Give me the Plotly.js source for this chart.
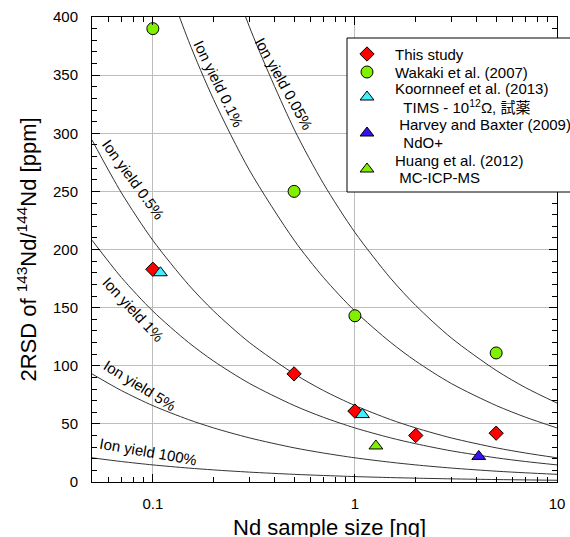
<!DOCTYPE html>
<html><head><meta charset="utf-8">
<script src="https://cdn.plot.ly/plotly-3.0.1.min.js"></script>
<style>html,body{margin:0;padding:0;background:#fff;}#chart{width:570px;height:537px;}</style>
</head><body><div id="chart"></div>
<script>
// ---- data ----
const curveX = [0.05, 0.07, 0.1, 0.15, 0.2, 0.3, 0.5, 0.7, 1, 1.5, 2, 3, 5, 7, 10];
const yield100 = [20.8, 17.6, 14.7, 12.0, 10.4, 8.5, 6.6, 5.6, 4.65, 3.8, 3.3, 2.7, 2.1, 1.8, 1.5];
const yield5   = [93.0, 78.6, 65.7, 53.7, 46.5, 38.0, 29.4, 24.9, 20.8, 17.0, 14.7, 12.0, 9.3, 7.9, 6.6];
const yield1   = [208.0, 175.8, 147.0, 120.1, 104.0, 84.9, 65.8, 55.6, 46.5, 38.0, 32.9, 26.8, 20.8, 17.6, 14.7];
const yield05  = [294.2, 248.6, 207.9, 169.8, 147.1, 120.1, 93.1, 78.6, 65.8, 53.7, 46.5, 37.9, 29.4, 24.9, 20.8];
const yield01  = [657.8, 555.9, 464.9, 379.8, 328.9, 268.5, 208.1, 175.8, 147.0, 120.2, 104.0, 84.7, 65.8, 55.7, 46.5];
const yield005 = [960.0, 811.4, 678.8, 554.2, 480.0, 391.9, 303.6, 256.5, 214.7, 175.3, 151.8, 123.9, 96.0, 81.1, 67.9];
const curveLabels = ["Ion yield 100%", "Ion yield 5%", "Ion yield 1%", "Ion yield 0.5%", "Ion yield 0.1%", "Ion yield 0.05%"];

const thisStudyX = [0.1, 0.5, 1, 2, 5];
const thisStudyY = [183, 93, 61, 40, 42];
const wakakiX = [0.1, 0.5, 1, 5];
const wakakiY = [390, 250, 143, 111];
const koornX = [0.109, 1.09];
const koornY = [180, 58];
const harveyX = [4.1];
const harveyY = [22];
const huangX = [1.27];
const huangY = [31];

// legend text lines (series names, second lines are the method notes)
const legendLines = [
  "This study",
  "Wakaki et al. (2007)",
  "Koornneef et al. (2013)",
  "\u00a0\u00a0TIMS - 10<sup>12</sup>Ω, 試薬",
  "\u00a0Harvey and Baxter (2009)",
  "\u00a0\u00a0NdO+",
  "Huang et al. (2012)",
  "\u00a0MC-ICP-MS"
];
const xTickVals = [0.1, 1, 10];
const xTickText = ["0.1", "1", "10"];
const xTitle = "Nd sample size [ng]";
const yTitle = "2RSD of <sup>143</sup>Nd/<sup>144</sup>Nd [ppm]";

// ---- build ----
const FONT = "Liberation Sans, Arial, Noto Sans CJK JP, sans-serif";
const styles = [
  {sym: 'diamond', col: '#ff0000', size: 11},
  {sym: 'circle', col: '#80f000', size: 12},
  {sym: 'triangle-up', col: '#40eeff', size: 12},
  {sym: 'triangle-up', col: '#3a10f0', size: 12},
  {sym: 'triangle-up', col: '#80ee00', size: 12}
];
const mk = s => ({symbol: s.sym, color: s.col, size: s.size, line: {color: '#000', width: 1}});

const curves = [yield100, yield5, yield1, yield05, yield01, yield005];
const traces = [];
curves.forEach(c => traces.push({
  x: curveX, y: c, type: 'scatter', mode: 'lines', hoverinfo: 'skip',
  line: {color: '#333333', width: 1, shape: 'spline', smoothing: 0.8}
}));
const series = [[thisStudyX, thisStudyY], [wakakiX, wakakiY], [koornX, koornY], [harveyX, harveyY], [huangX, huangY]];
series.forEach((s, i) => traces.push({x: s[0], y: s[1], type: 'scatter', mode: 'markers', marker: mk(styles[i])}));

// legend geometry (plot-fraction units)
const px2fx = p => (p - 92) / 465;
const py2fy = p => (482 - p) / 465;
const legSymbolY = [54, 72, 97, 133, 169];
const legTextY = [54, 72, 88, 106, 124, 142, 160, 178];

function symbolPath(sym, size) {
  const r = size / 2;
  if (sym === 'diamond') { const d = r * 1.3; return `M${d},0L0,${d}L${-d},0L0,${-d}Z`; }
  const rt = r * 2 / Math.sqrt(3), r2 = r / 2;
  return `M${-rt},${-r2}L${rt},${-r2}L0,${r}Z`;
}

const shapes = [{
  type: 'rect', xref: 'paper', yref: 'paper', layer: 'above',
  x0: px2fx(347), x1: px2fx(620), y0: py2fy(192), y1: py2fy(38),
  fillcolor: '#fff', line: {color: '#000', width: 1}
}];
styles.forEach((s, i) => {
  const base = {xref: 'paper', yref: 'paper', layer: 'above', xsizemode: 'pixel', ysizemode: 'pixel',
    xanchor: px2fx(367), yanchor: py2fy(legSymbolY[i]), fillcolor: s.col, line: {color: '#000', width: 1}};
  if (s.sym === 'circle') {
    const r = s.size / 2;
    shapes.push(Object.assign({type: 'circle', x0: -r, x1: r, y0: -r, y1: r}, base));
  } else {
    shapes.push(Object.assign({type: 'path', path: symbolPath(s.sym, s.size)}, base));
  }
});

const labelPos = [
  {x: 0.0947, y: 26, a: 10},
  {x: 0.0864, y: 83, a: 32},
  {x: 0.080, y: 148, a: 47},
  {x: 0.080, y: 260, a: 54},
  {x: 0.212, y: 343, a: 64},
  {x: 0.446, y: 343, a: 61}
];
const annotations = curveLabels.map((t, i) => ({
  text: t, x: Math.log10(labelPos[i].x), y: labelPos[i].y, xref: 'x', yref: 'y',
  showarrow: false, textangle: labelPos[i].a, font: {family: FONT, size: 15, color: '#000'}
}));
legendLines.forEach((t, i) => annotations.push({
  text: t, x: px2fx(393), y: py2fy(legTextY[i]), xref: 'paper', yref: 'paper',
  xanchor: 'left', yanchor: 'middle', showarrow: false, font: {family: FONT, size: 15, color: '#000'}
}));
annotations.push({
  text: xTitle, x: px2fx(329), y: py2fy(513), xref: 'paper', yref: 'paper',
  xanchor: 'center', yanchor: 'top', showarrow: false, font: {family: FONT, size: 22, color: '#000'}
});

const minorX = [];
[0.01, 0.1, 1].forEach(d => { for (let k = 2; k <= 9; k++) { const v = d * k; if (v > 0.05 && v < 10) minorX.push(v); } });

const layout = {
  width: 570, height: 537,
  margin: {l: 92, r: 13, t: 17, b: 55, autoexpand: false},
  paper_bgcolor: '#fff', plot_bgcolor: '#fff',
  font: {family: FONT, size: 15, color: '#000'},
  showlegend: false,
  xaxis: {
    type: 'log', range: [Math.log10(0.05), 1],
    tickmode: 'array', tickvals: xTickVals, ticktext: xTickText,
    ticks: 'inside', ticklen: 8, tickcolor: '#000', tickwidth: 1,
    showline: true, linecolor: '#000', linewidth: 1, mirror: 'ticks',
    showgrid: true, gridcolor: '#bdbdbd', gridwidth: 1, zeroline: false,
    ticklabelstandoff: 8,
    minor: {tickmode: 'array', tickvals: minorX, ticks: 'inside', ticklen: 5, tickcolor: '#000', showgrid: false}
  },
  yaxis: {
    range: [0, 400], tickmode: 'linear', tick0: 0, dtick: 50,
    ticks: 'inside', ticklen: 8, tickcolor: '#000', tickwidth: 1,
    showline: true, linecolor: '#000', linewidth: 1, mirror: 'ticks',
    showgrid: true, gridcolor: '#bdbdbd', gridwidth: 1, zeroline: false,
    ticklabelstandoff: 10,
    minor: {dtick: 10, ticks: 'inside', ticklen: 5, tickcolor: '#000', showgrid: false},
    title: {text: yTitle, font: {family: FONT, size: 22}, standoff: 10}
  },
  shapes: shapes,
  annotations: annotations
};
Plotly.newPlot('chart', traces, layout, {displayModeBar: false, staticPlot: true});
</script></body></html>
